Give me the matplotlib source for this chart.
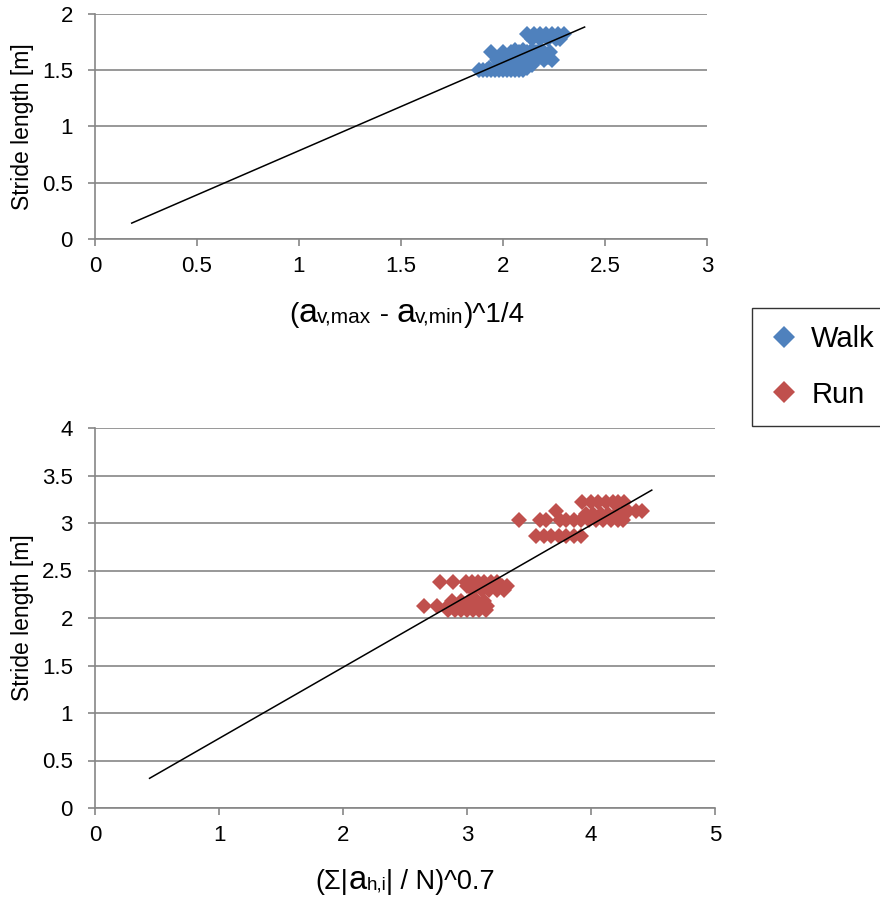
import matplotlib
matplotlib.use("Agg")
import matplotlib.pyplot as plt
from matplotlib.ticker import FuncFormatter, MultipleLocator
import numpy as np

plt.rcParams['font.family'] = ['Liberation Sans', 'DejaVu Sans']

# ---- data ----
walk_levels = [1.50, 1.52, 1.55, 1.59, 1.62, 1.66, 1.68, 1.78, 1.82]
walk_x = [
    [1.88, 1.90, 1.92, 1.94, 1.96, 1.98, 2.00, 2.02, 2.04, 2.06, 2.08, 2.10],
    [1.93, 1.97, 2.01, 2.05, 2.09, 2.12],
    [1.98, 2.02, 2.06, 2.10, 2.14],
    [1.97, 2.00, 2.04, 2.08, 2.12, 2.16, 2.20, 2.24],
    [2.02, 2.08, 2.14, 2.18, 2.22],
    [1.94, 2.00, 2.04, 2.08, 2.12, 2.16, 2.20, 2.23],
    [2.06, 2.10, 2.14, 2.18],
    [2.14, 2.18, 2.22, 2.26, 2.28],
    [2.12, 2.15, 2.18, 2.21, 2.24, 2.27, 2.30],
]
run_levels = [2.08, 2.13, 2.18, 2.30, 2.34, 2.38, 2.86, 3.03, 3.10, 3.13, 3.22]
run_x = [
    [2.85, 2.90, 2.95, 3.00, 3.05, 3.10, 3.15],
    [2.65, 2.76, 2.85, 2.92, 2.98, 3.04, 3.10, 3.16],
    [2.88, 2.95, 3.02, 3.08, 3.14],
    [3.05, 3.12, 3.18, 3.24, 3.30],
    [3.00, 3.10, 3.20, 3.28, 3.32],
    [2.78, 2.89, 2.99, 3.04, 3.09, 3.14, 3.19, 3.24],
    [3.56, 3.62, 3.68, 3.74, 3.80, 3.86, 3.92],
    [3.42, 3.59, 3.64, 3.75, 3.80, 3.86, 3.92, 3.98, 4.04, 4.10, 4.16, 4.22, 4.26],
    [3.96, 4.02, 4.08, 4.14, 4.20, 4.26],
    [3.72, 4.30, 4.36, 4.41],
    [3.93, 4.00, 4.06, 4.12, 4.18, 4.22, 4.27],
]
# trendlines: slope, intercept, x-range
walk_trend = dict(slope=0.785, intercept=0.0, x=[0.18, 2.40])
run_trend = dict(slope=0.749, intercept=-0.017, x=[0.44, 4.49])

walk_color = '#4F81BD'
run_color = '#C0504D'
grid_color = '#868686'

W, H = 880, 898
fig = plt.figure(figsize=(W / 100, H / 100), dpi=100)

ax1 = fig.add_axes([95 / W, 1 - 239 / H, (707 - 95) / W, (239 - 14) / H])
ax2 = fig.add_axes([95 / W, 1 - 808 / H, (715 - 95) / W, (808 - 428) / H])

fmt = FuncFormatter(lambda v, p: '{:g}'.format(round(v, 3)))


def style(ax, xlim, xstep, ylim, ystep):
    ax.set_xlim(*xlim)
    ax.set_ylim(*ylim)
    ax.xaxis.set_major_locator(MultipleLocator(xstep))
    ax.yaxis.set_major_locator(MultipleLocator(ystep))
    ax.xaxis.set_major_formatter(fmt)
    ax.yaxis.set_major_formatter(fmt)
    for s in ['top', 'right']:
        ax.spines[s].set_visible(False)
    for s in ['left', 'bottom']:
        ax.spines[s].set_color(grid_color)
        ax.spines[s].set_linewidth(1.2)
    ax.grid(axis='y', color=grid_color, linewidth=1.2)
    ax.set_axisbelow(True)
    ax.tick_params(axis='both', direction='out', length=5, width=1.2,
                   color=grid_color, labelsize=16)
    ax.tick_params(axis='x', pad=7)
    ax.tick_params(axis='y', pad=11)
    ax.set_ylabel('Stride length [m]', fontsize=16.5)
    axw = ax.get_position().width * W
    ax.yaxis.set_label_coords((34 - 95) / axw, 0.5)


def pts(levels, xs):
    X, Y = [], []
    for lv, row in zip(levels, xs):
        for x in row:
            X.append(x)
            Y.append(lv)
    return X, Y


style(ax1, (0, 3), 0.5, (0, 2), 0.5)
style(ax2, (0, 5), 1, (0, 4), 0.5)

wx, wy = pts(walk_levels, walk_x)
rx, ry = pts(run_levels, run_x)
h1, = ax1.plot(wx, wy, 'D', color=walk_color, ms=8, mew=0, label='Walk', zorder=3)
h2, = ax2.plot(rx, ry, 'D', color=run_color, ms=8, mew=0, label='Run', zorder=3)

for ax, tr in [(ax1, walk_trend), (ax2, run_trend)]:
    xx = np.array(tr['x'])
    ax.plot(xx, tr['slope'] * xx + tr['intercept'], color='black', lw=1.1, zorder=4)

# composite x-axis labels: (text, fontsize)
top_pieces = [("(", 20), ("a", 24.5), ("v,max", 15), (" - ", 20),
              ("a", 24.5), ("v,min", 15), (")^1/4", 20)]
bot_pieces = [("(\u03a3|", 19.5), ("a", 23.5), ("h,i", 13.5), ("| / N)^0.7", 19.5)]


def compose(ax, pieces, y0):
    texts = []
    first = ax.annotate(pieces[0][0], xy=(0.3, y0), xycoords='figure fraction',
                        fontsize=pieces[0][1], va='baseline', ha='left',
                        annotation_clip=False)
    texts.append(first)
    prev = first
    for s, fs in pieces[1:]:
        t = ax.annotate(s, xy=(1, y0), xycoords=(prev, 'figure fraction'),
                        fontsize=fs, va='baseline', ha='left',
                        annotation_clip=False)
        texts.append(t)
        prev = t
    return texts


t1 = compose(ax1, top_pieces, 1 - 322 / H)
t2 = compose(ax2, bot_pieces, 1 - 889 / H)

fig.canvas.draw()
r = fig.canvas.get_renderer()
for ax, texts, off in [(ax1, t1, 6), (ax2, t2, 0)]:
    x0 = texts[0].get_window_extent(r).x0
    x1 = texts[-1].get_window_extent(r).x1
    bb = ax.get_window_extent(r)
    cx = (bb.x0 + bb.x1) / 2 + off
    shift = cx - (x0 + x1) / 2
    xf, yf = texts[0].xyann
    texts[0].xyann = (xf + shift / W, yf)
    texts[0].xy = (xf + shift / W, yf)

leg = fig.legend([h1, h2], ['Walk', 'Run'], loc='upper left',
                 bbox_to_anchor=(752 / W, 1 - 308 / H), bbox_transform=fig.transFigure,
                 fontsize=21, frameon=True, fancybox=False, edgecolor='black',
                 borderaxespad=0, handlelength=1.0, handletextpad=0.45,
                 labelspacing=0.95, borderpad=0.58, markerscale=1.35)
leg.get_frame().set_linewidth(1.0)

fig.savefig('out.png', dpi=100)
